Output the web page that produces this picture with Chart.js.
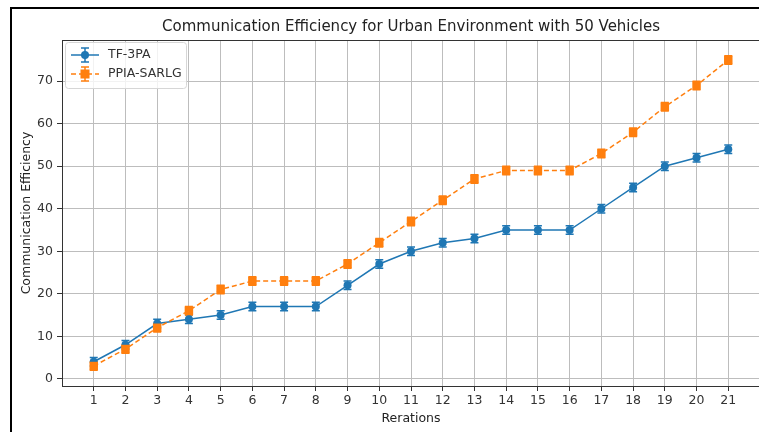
<!DOCTYPE html>
<html>
<head>
<meta charset="utf-8">
<script src="https://cdn.jsdelivr.net/npm/chart.js@4.4.1/dist/chart.umd.min.js"></script>
<style>
  html, body { margin: 0; padding: 0; background: #fff; overflow: hidden; }
  #wrap { position: relative; width: 759px; height: 432px; overflow: hidden; }
  #c { position: absolute; left: 0; top: 0; }
  #frame { position: absolute; left: 10px; top: 7px; width: 800px; height: 500px;
           border-left: 2px solid #000; border-top: 2px solid #000; pointer-events: none; }
</style>
</head>
<body>
<div id="wrap">
  <canvas id="c" width="766" height="432"></canvas>
  <div id="frame"></div>
</div>
<script>
// Iterations on the x axis
const iterations = [1, 2, 3, 4, 5, 6, 7, 8, 9, 10, 11, 12, 13, 14, 15, 16, 17, 18, 19, 20, 21];

// TF-3PA: mean efficiency and error half-width
const tf3pa    = [4, 8, 13, 14, 15, 17, 17, 17, 22, 27, 30, 32, 33, 35, 35, 35, 40, 45, 50, 52, 54];
const tf3paErr = [1, 1, 1, 1, 1, 1, 1, 1, 1, 1, 1, 1, 1, 1, 1, 1, 1, 1, 1, 1, 1];

// PPIA-SARLG: mean efficiency and error half-width
const ppiaSarlg    = [3, 7, 12, 16, 21, 23, 23, 23, 27, 32, 37, 42, 47, 49, 49, 49, 53, 58, 64, 69, 75];
const ppiaSarlgErr = [1, 1, 1, 1, 1, 1, 1, 1, 1, 1, 1, 1, 1, 1, 1, 1, 1, 1, 1, 1, 1];

// Tick values
const xTicks = iterations;
const yTicks = [0, 10, 20, 30, 40, 50, 60, 70];

const TITLE = 'Communication Efficiency for Urban Environment with 50 Vehicles';
const BLUE = '#1f77b4';
const ORANGE = '#ff7f0e';
const FONT = "'DejaVu Sans', sans-serif";
const TEXT = '#333';

const toPoints = (ys, errs) => iterations.map((x, i) => ({ x: x, y: ys[i], err: errs[i] }));

// Vertical error bars with caps, drawn through the scales
const errorBars = {
  id: 'errorBars',
  beforeDatasetsDraw(chart) {
    const { ctx, scales: { x, y } } = chart;
    chart.data.datasets.forEach((ds) => {
      ctx.save();
      ctx.strokeStyle = ds.borderColor;
      ctx.lineWidth = 1.5;
      ds.data.forEach((p) => {
        const px = x.getPixelForValue(p.x);
        const top = y.getPixelForValue(p.y + p.err);
        const bot = y.getPixelForValue(p.y - p.err);
        ctx.beginPath();
        ctx.moveTo(px, top); ctx.lineTo(px, bot);
        ctx.moveTo(px - 4, top); ctx.lineTo(px + 4, top);
        ctx.moveTo(px - 4, bot); ctx.lineTo(px + 4, bot);
        ctx.stroke();
      });
      ctx.restore();
    });
  }
};

// Box around the plotting area and the title centred above it
const plotFrame = {
  id: 'plotFrame',
  afterDraw(chart) {
    const { ctx, chartArea: a } = chart;
    ctx.save();
    ctx.strokeStyle = '#333';
    ctx.lineWidth = 1;
    ctx.strokeRect(Math.round(a.left) + 0.5, Math.round(a.top) + 0.5,
                   Math.round(a.right - a.left), Math.round(a.bottom - a.top));
    ctx.fillStyle = '#222';
    ctx.font = '15px ' + FONT;
    ctx.textAlign = 'center';
    ctx.textBaseline = 'middle';
    ctx.fillText(TITLE, (a.left + a.right) / 2, a.top - 13);
    ctx.restore();
  }
};

// Legend box in the upper-left corner of the plot
const insetLegend = {
  id: 'insetLegend',
  afterDraw(chart) {
    const { ctx, chartArea: a } = chart;
    const bx = a.left + 3, by = a.top + 2, bw = 121, bh = 46;
    ctx.save();
    ctx.globalAlpha = 0.8;
    ctx.fillStyle = '#fff';
    ctx.beginPath();
    ctx.roundRect(bx + 0.5, by + 0.5, bw, bh, 3);
    ctx.fill();
    ctx.globalAlpha = 1;
    ctx.strokeStyle = '#d6d6d6';
    ctx.lineWidth = 1;
    ctx.stroke();
    chart.data.datasets.forEach((ds, i) => {
      const cy = by + 13 + i * 19;
      const x0 = bx + 6, x1 = bx + 34, cx = (x0 + x1) / 2;
      ctx.strokeStyle = ds.borderColor;
      ctx.lineWidth = 1.5;
      ctx.setLineDash(ds.borderDash || []);
      ctx.beginPath(); ctx.moveTo(x0, cy); ctx.lineTo(x1, cy); ctx.stroke();
      ctx.setLineDash([]);
      ctx.beginPath();
      ctx.moveTo(cx, cy - 7); ctx.lineTo(cx, cy + 7);
      ctx.moveTo(cx - 4, cy - 7); ctx.lineTo(cx + 4, cy - 7);
      ctx.moveTo(cx - 4, cy + 7); ctx.lineTo(cx + 4, cy + 7);
      ctx.stroke();
      ctx.fillStyle = ds.backgroundColor;
      if (ds.pointStyle === 'rect') {
        ctx.fillRect(cx - 4.5, cy - 4.5, 9, 9);
      } else {
        ctx.beginPath(); ctx.arc(cx, cy, 4, 0, Math.PI * 2); ctx.fill();
      }
      ctx.fillStyle = TEXT;
      ctx.font = '12.5px ' + FONT;
      ctx.textBaseline = 'middle';
      ctx.textAlign = 'left';
      ctx.fillText(ds.label, bx + 43, cy);
    });
    ctx.restore();
  }
};

new Chart(document.getElementById('c'), {
  type: 'line',
  data: {
    datasets: [
      {
        label: 'TF-3PA',
        data: toPoints(tf3pa, tf3paErr),
        borderColor: BLUE,
        backgroundColor: BLUE,
        borderWidth: 1.5,
        pointStyle: 'circle',
        pointRadius: 4,
        pointBorderWidth: 0,
        order: 1
      },
      {
        label: 'PPIA-SARLG',
        data: toPoints(ppiaSarlg, ppiaSarlgErr),
        borderColor: ORANGE,
        backgroundColor: ORANGE,
        borderWidth: 1.5,
        borderDash: [5, 3],
        pointStyle: 'rect',
        pointRadius: 6,
        pointBorderWidth: 0,
        order: 0
      }
    ]
  },
  options: {
    responsive: false,
    animation: false,
    devicePixelRatio: 1,
    layout: { padding: { left: 14, right: 0, top: 40, bottom: 0 } },
    plugins: {
      legend: { display: false },
      tooltip: { enabled: false },
      title: { display: false }
    },
    scales: {
      x: {
        type: 'linear',
        min: 0,
        max: 22,
        afterBuildTicks: (axis) => { axis.ticks = xTicks.map(v => ({ value: v })); },
        afterFit: (axis) => { axis.height = 46; },
        ticks: {
          color: TEXT,
          font: { family: FONT, size: 12.5 },
          padding: 2,
          maxRotation: 0,
          autoSkip: false
        },
        grid: { color: '#bdbdbd', lineWidth: 1, tickLength: 5, tickColor: '#333' },
        border: { display: false },
        title: {
          display: true,
          text: 'Rerations',
          color: '#222',
          font: { family: FONT, size: 12.5 },
          padding: { top: 1, bottom: 6 }
        }
      },
      y: {
        type: 'linear',
        min: -1.7,
        max: 79.7,
        afterBuildTicks: (axis) => { axis.ticks = yTicks.map(v => ({ value: v })); },
        afterFit: (axis) => { axis.width = 48; },
        ticks: {
          color: TEXT,
          font: { family: FONT, size: 12.5 },
          padding: 4
        },
        grid: { color: '#bdbdbd', lineWidth: 1, tickLength: 5, tickColor: '#333' },
        border: { display: false },
        title: {
          display: true,
          text: 'Communication Efficiency',
          color: '#222',
          font: { family: FONT, size: 12.5 },
          padding: { top: 5, bottom: 0 }
        }
      }
    }
  },
  plugins: [errorBars, plotFrame, insetLegend]
});
</script>
</body>
</html>
